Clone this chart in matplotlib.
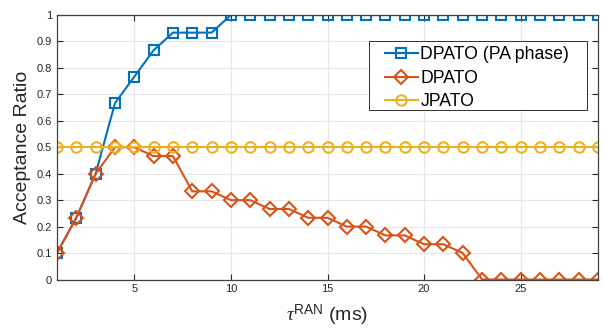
import matplotlib
matplotlib.use('Agg')
import matplotlib.pyplot as plt
from matplotlib.patches import Rectangle
import numpy as np

plt.rcParams['font.family'] = ['Liberation Sans', 'DejaVu Sans']
plt.rcParams['mathtext.fontset'] = 'custom'
plt.rcParams['mathtext.rm'] = 'Liberation Sans'
plt.rcParams['mathtext.it'] = 'Liberation Serif:italic'

# data (fractions of 30 trials)
tau = np.arange(1, 30)
dpato_pa = [3, 7, 12, 20, 23, 26, 28, 28, 28] + [30] * 20
dpato = [3, 7, 12, 15, 15, 14, 14, 10, 10, 9, 9, 8, 8, 7, 7, 6, 6, 5, 5,
         4, 4, 3] + [0] * 7
jpato = [15] * 29

dpato_pa = np.array(dpato_pa) / 30.0
dpato = np.array(dpato) / 30.0
jpato = np.array(jpato) / 30.0

labels = ['DPATO (PA phase)', 'DPATO', 'JPATO']
colors = ['#0072BD', '#D95319', '#EDB120']

W, H = 603, 332
fig = plt.figure(figsize=(W / 100, H / 100), dpi=100)
ax = fig.add_axes([57 / W, 1 - 279.5 / H, 541 / W, 264.5 / H])

ax.plot(tau, dpato_pa, color=colors[0], marker='s', markersize=6.5,
        markerfacecolor='none', markeredgewidth=1.5, linewidth=1.5,
        label=labels[0])
ax.plot(tau, dpato, color=colors[1], marker='D', markersize=7,
        markerfacecolor='none', markeredgewidth=1.5, linewidth=1.5,
        label=labels[1])
ax.plot(tau, jpato, color=colors[2], marker='o', markersize=7.5,
        markerfacecolor='none', markeredgewidth=1.5, linewidth=1.5,
        label=labels[2])

ax.set_xlim(1, 29)
ax.set_ylim(0, 1)
ax.set_xticks([5, 10, 15, 20, 25])
ax.set_yticks(np.arange(0, 1.01, 0.1))
ax.set_yticklabels(['0', '0.1', '0.2', '0.3', '0.4', '0.5', '0.6', '0.7',
                    '0.8', '0.9', '1'])
ax.tick_params(direction='in', top=True, right=True, labelsize=8,
               colors='#262626', length=4, width=0.8)
ax.grid(True, color='#e6e6e6', linewidth=0.8)
ax.set_axisbelow(True)
for s in ax.spines.values():
    s.set_color('#404040')
    s.set_linewidth(0.9)

ax.set_ylabel('Acceptance Ratio', fontsize=14, color='#262626')
ax.set_xlabel(r'$\tau^{\rm RAN}$ (ms)', fontsize=14, color='#262626',
              labelpad=6)

# legend frame drawn separately to get MATLAB-like wide padding
frame = Rectangle((369 / W, 1 - 110 / H), 218 / W, 69 / H,
                  transform=fig.transFigure, facecolor='white',
                  edgecolor='#303030', linewidth=0.7, zorder=5)
fig.patches.append(frame)
leg = fig.legend(*ax.get_legend_handles_labels(), loc='upper left',
                 bbox_to_anchor=(385 / W, 1 - 46 / H),
                 bbox_transform=fig.transFigure,
                 borderaxespad=0, borderpad=0, fontsize=12.7, frameon=False,
                 handlelength=1.85, handletextpad=0.15, labelspacing=0.38)
leg.set_zorder(6)

fig.savefig('out.png', dpi=100)
